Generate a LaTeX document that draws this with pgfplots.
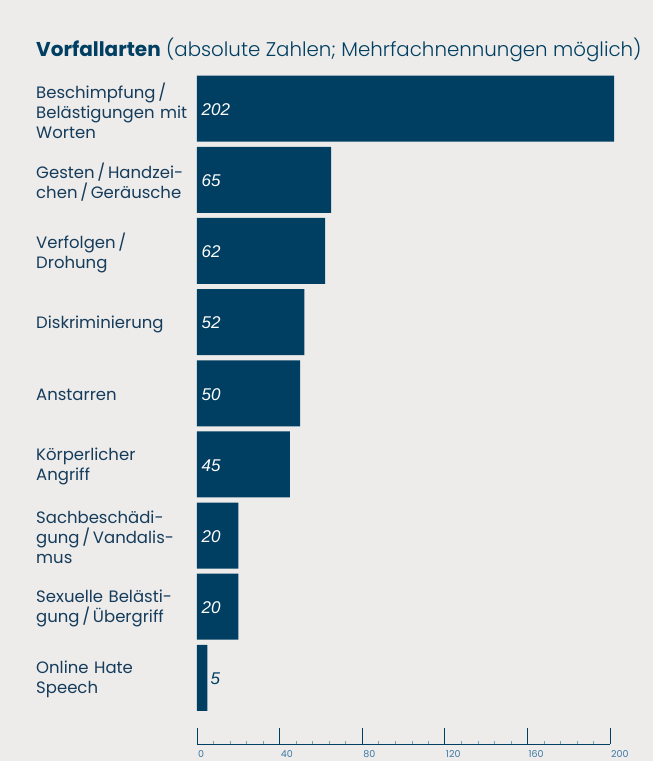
\documentclass[border=0pt]{standalone}
\usepackage{fontspec}
\setmainfont{Poppins}
\newfontfamily\poplight{Poppins Light}
\newfontfamily\numfont{Liberation Sans}
\usepackage{pgfplots}
\pgfplotsset{compat=1.18}
\definecolor{bg}{RGB}{237,236,234}
\definecolor{navy}{RGB}{0,63,98}
\definecolor{txt}{RGB}{22,60,92}
\definecolor{tickc}{RGB}{60,120,165}
\begin{document}
\begin{tikzpicture}
\fill[bg] (0,0) rectangle (653pt,761pt);
\node[anchor=base west, inner sep=0pt, text=navy, font=\fontsize{20}{22}\selectfont] at (36pt,704pt) {\textbf{Vorfallarten} {\poplight\fontsize{19.8}{22}\selectfont(absolute Zahlen; Mehrfachnennungen möglich)}};
\begin{axis}[
  at={(197pt,17pt)}, anchor=south west,
  scale only axis, width=413pt, height=668pt,
  xmin=0, xmax=200, ymin=-0.93, ymax=8.46,
  clip=false,
  axis x line=bottom, axis y line=left,
  x axis line style={-, draw=navy, line width=0.8pt},
  y axis line style={draw=none},
  xtick={0,40,...,200}, minor x tick num=4,
  tick align=inside,
  major tick length=16pt, minor tick length=3pt,
  major x tick style={draw=navy, line width=0.8pt},
  minor x tick style={draw=navy!50, line width=0.5pt},
  ytick style={draw=none},
  /pgf/number format/assume math mode=true,
  xticklabel style={font=\fontsize{9.5}{10}\selectfont, text=tickc, anchor=north west, inner sep=0pt, yshift=-6pt, xshift=1pt},
  ytick={0,...,8},
  yticklabels={{Online Hate\\Speech},{Sexuelle Belästi-\\gung\,/\,Übergriff},{Sachbeschädi-\\gung\,/\,Vandalis-\\mus},{Körperlicher\\Angriff},{Anstarren},{Diskriminierung},{Verfolgen\,/\\Drohung},{Gesten\,/\,Handzei-\\chen\,/\,Geräusche},{Beschimpfung\,/\\Belästigungen mit\\Worten}},
  yticklabel style={anchor=west, text width=160pt, align=left, inner sep=0pt, xshift=-161pt, yshift=-2pt, font=\fontsize{16.5}{20}\selectfont, text=txt},
]
\addplot[xbar, bar width=66pt, bar shift=0pt, fill=navy, draw=none] coordinates {(5,0) (20,1) (20,2) (45,3) (50,4) (52,5) (62,6) (65,7) (202,8)};
\addplot[draw=none, mark=none, nodes near coords, point meta=explicit symbolic,
  every node near coord/.style={anchor=west, text=white, font=\numfont\itshape\fontsize{17}{17}\selectfont, inner sep=0pt, xshift=4.5pt, yshift=-1pt}]
  coordinates {(0,1)[20] (0,2)[20] (0,3)[45] (0,4)[50] (0,5)[52] (0,6)[62] (0,7)[65] (0,8)[202]};
\addplot[draw=none, mark=none, nodes near coords, point meta=explicit symbolic,
  every node near coord/.style={anchor=west, text=navy, font=\numfont\itshape\fontsize{17}{17}\selectfont, inner sep=0pt, xshift=3pt, yshift=-1pt}]
  coordinates {(5,0)[5]};
\end{axis}
\end{tikzpicture}
\end{document}
